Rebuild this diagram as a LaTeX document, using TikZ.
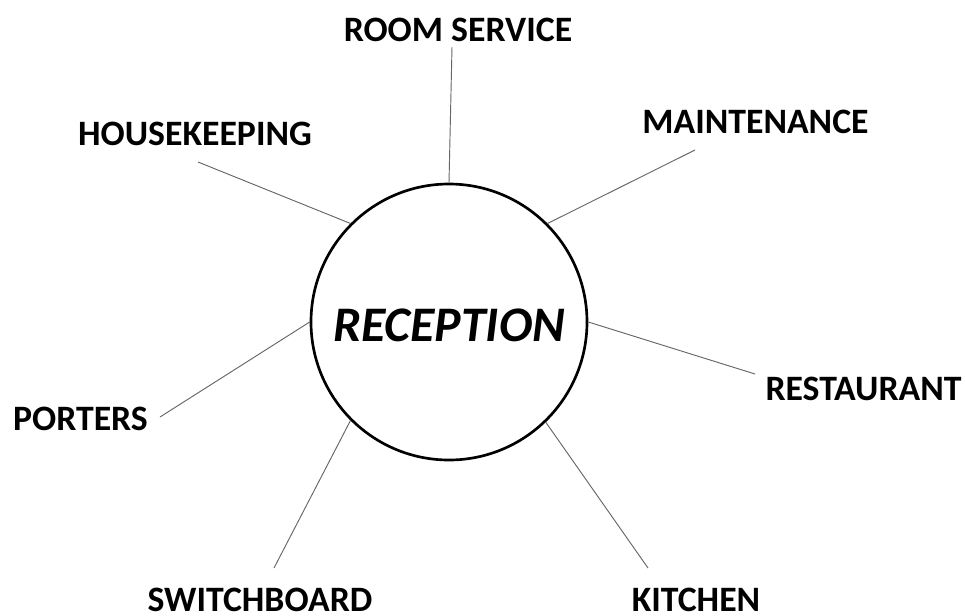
\documentclass[tikz,border=0pt]{standalone}
\usepackage{fontspec}
\setmainfont{Carlito}
\usepackage{tikz}
\usetikzlibrary{positioning}

\begin{document}
\begin{tikzpicture}[x=0.75pt, y=-0.75pt,
    dept/.style={anchor=base, inner sep=0pt, font=\fontsize{26.8}{32}\selectfont\bfseries},
    hub/.style={circle, draw, line width=2pt, minimum size=207pt, inner sep=0pt,
      font=\fontsize{37.3}{44}\selectfont\bfseries\itshape, text height=29.8pt, text depth=0pt},
    spoke/.style={draw=black!60, line width=0.7pt}]
  \useasboundingbox[fill=white] (0,0) rectangle (965,615);
  % Hub
  \node[hub] (rec) at (449,322) {RECEPTION};
  % Departments
  \node[dept] (room) at (458,41) {ROOM SERVICE};
  \node[dept] (house) at (195,145) {HOUSEKEEPING};
  \node[dept] (maint) at (755.5,133) {MAINTENANCE};
  \node[dept] (rest) at (863.5,400) {RESTAURANT};
  \node[dept] (port) at (80.5,430) {PORTERS};
  \node[dept] (switch) at (260,611) {SWITCHBOARD};
  \node[dept] (kitch) at (696,611) {KITCHEN};
  % Free ends of the spokes (near the labels)
  \coordinate (roomEnd) at (452,47);
  \coordinate (houseEnd) at (198,162);
  \coordinate (maintEnd) at (695,150);
  \coordinate (restEnd) at (755,374);
  \coordinate (portEnd) at (160,417);
  \coordinate (switchEnd) at (274,568);
  \coordinate (kitchEnd) at (648,568);
  % Spokes
  \foreach \ang/\e in {90.4/roomEnd, 135.9/houseEnd, 45/maintEnd, -0.4/restEnd,
                       180.8/portEnd, 225.6/switchEnd, 314.4/kitchEnd}
    \draw[spoke] (rec.\ang) -- (\e);
\end{tikzpicture}
\end{document}
